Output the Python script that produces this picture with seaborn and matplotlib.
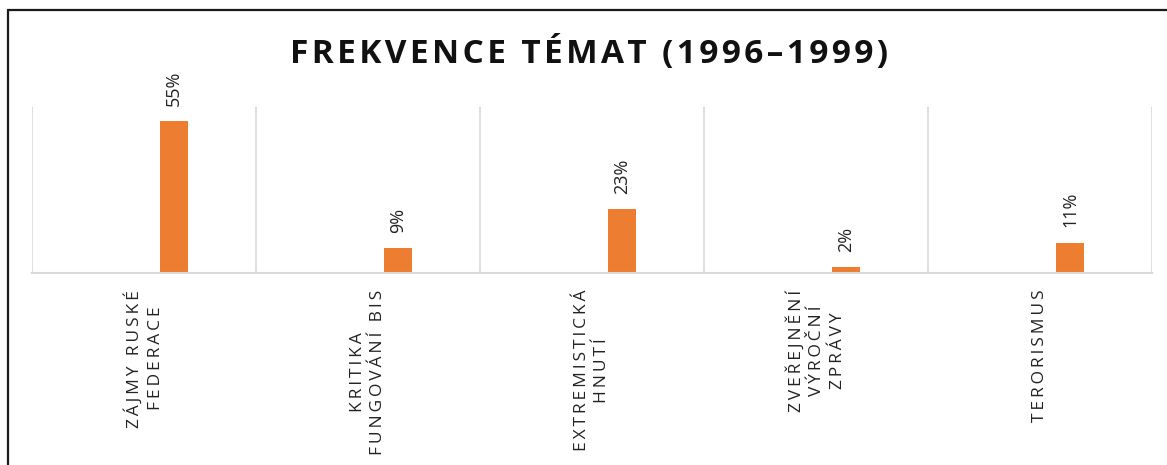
import numpy as np
import pandas as pd
import matplotlib.pyplot as plt
import seaborn as sns
from matplotlib.lines import Line2D

# data
temata = ['ZÁJMY RUSKÉ\nFEDERACE', 'KRITIKA\nFUNGOVÁNÍ BIS', 'EXTREMISTICKÁ\nHNUTÍ',
          'ZVEŘEJNĚNÍ\nVÝROČNÍ\nZPRÁVY', 'TERORISMUS']
podil = [0.55, 0.09, 0.23, 0.02, 0.11]
prazdna_rada = [0, 0, 0, 0, 0]   # empty first series of the original chart
titulek = 'FREKVENCE TÉMAT (1996–1999)'

sns.set_style('white')
plt.rcParams['font.family'] = ['Open Sans', 'DejaVu Sans']


def rozpal(text, mezera='\u2009'):
    # fake Excel letter spacing with thin spaces
    return '\n'.join(mezera.join(list(r)) for r in text.split('\n'))


df = pd.DataFrame({
    'tema': list(range(len(temata))) * 2,
    'rada': ['r1'] * len(temata) + ['r2'] * len(temata),
    'hodnota': prazdna_rada + podil,
})

fig = plt.figure(figsize=(11.67, 4.65), dpi=100)
ax = fig.add_axes([32 / 1167, 1 - 273 / 465, (1152 - 32) / 1167, (273 - 107) / 465])

sns.barplot(data=df, x='tema', y='hodnota', hue='rada', palette=['#4472C4', '#ED7D31'],
            saturation=1, width=0.536, gap=0.52, linewidth=0, legend=False, ax=ax)

ax.bar_label(ax.containers[1], labels=[f'{v:.0%}' for v in podil], rotation=90,
             padding=11, fontsize=13, color='#222222')

ax.set_xlim(-0.5, len(temata) - 0.5)
ax.set_ylim(0, 0.6)
ax.set_yticks([])
ax.set_xticks(range(len(temata)))
ax.set_xticklabels([rozpal(t) for t in temata], rotation=90, ha='center', va='top',
                   multialignment='center', linespacing=1.4, fontsize=12.5, color='#222222')
ax.tick_params(axis='x', which='both', length=0, pad=12)
ax.set_xticks(np.arange(-0.5, len(temata), 1), minor=True)
ax.grid(which='minor', axis='x', color='#d9d9d9', lw=1.2)
ax.grid(which='major', visible=False)
ax.set_xlabel('')
ax.set_ylabel('')
for s in ['top', 'left', 'right']:
    ax.spines[s].set_visible(False)
ax.spines['bottom'].set_color('#d9d9d9')
ax.spines['bottom'].set_linewidth(1.5)

fig.text(589 / 1167, 1 - 54 / 465, rozpal(titulek, '\u200a'), ha='center', va='center',
         fontsize=24, fontweight='bold', color='#111111')

# outer frame (only top and left edges visible in the crop)
x0 = 7.5 / 1167
y0 = 1 - 10.5 / 465
fig.add_artist(Line2D([x0, x0], [0, y0], transform=fig.transFigure, color='#1a1a1a', lw=1.6))
fig.add_artist(Line2D([x0, 1], [y0, y0], transform=fig.transFigure, color='#1a1a1a', lw=1.6))

fig.savefig('out.png', dpi=100)
